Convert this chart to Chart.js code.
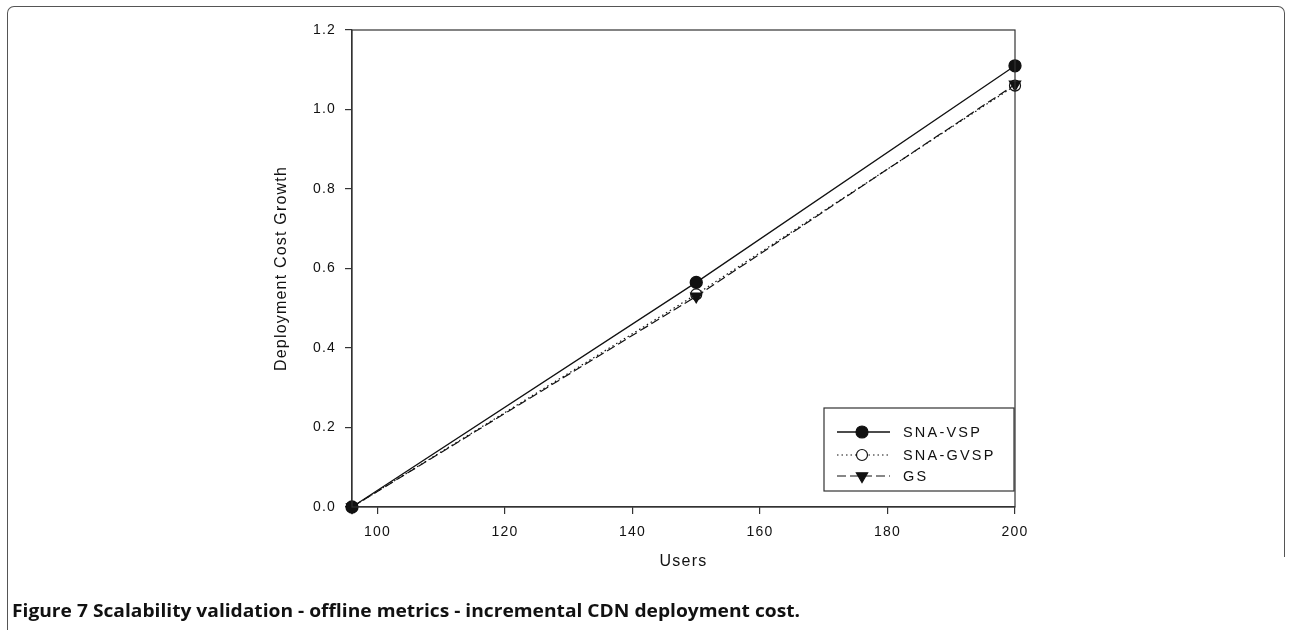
<!DOCTYPE html>
<html>
<head>
<meta charset="utf-8">
<script src="https://cdn.jsdelivr.net/npm/chart.js@4.4.1/dist/chart.umd.min.js"></script>
<style>
  html, body { margin: 0; padding: 0; background: #fff; }
  body { width: 1292px; height: 630px; position: relative; overflow: hidden; }
  #frame { position: absolute; left: 7px; top: 6px; width: 1276px; height: 550px;
           border: 1.5px solid #555; border-bottom: none; border-radius: 7px 7px 0 0; }
  #frameLeft { position: absolute; left: 7px; top: 550px; height: 90px; border-left: 1.5px solid #555; }
  #chart { position: absolute; left: 0; top: 0; }
  #caption { position: absolute; left: 12px; top: 598px; font: bold 18px "Open Sans", sans-serif;
             line-height: 24px; white-space: nowrap; transform-origin: 0 0; color: #111; }
</style>
</head>
<body>
<div id="frame"></div>
<div id="frameLeft"></div>
<canvas id="chart" width="1292" height="630"></canvas>
<div id="caption">Figure 7 Scalability validation - offline metrics - incremental CDN deployment cost.</div>
<script>
// values
const users = [96, 150, 200];
const snaVsp = [0, 0.565, 1.11];
const snaGvsp = [0, 0.535, 1.06];
const gs = [0, 0.53, 1.063];
const seriesNames = ['SNA-VSP', 'SNA-GVSP', 'GS'];
const xTicks = [100, 120, 140, 160, 180, 200];
const yTicks = [0, 0.2, 0.4, 0.6, 0.8, 1.0, 1.2];

const ink = '#111';
const axisColor = '#333';
const family = '"Liberation Sans", Arial, sans-serif';

function points(values) {
    return users.map((u, i) => ({ x: u, y: values[i] }));
}

// box round the plot area, letter spacing like the original
const framePlugin = {
    id: 'frame',
    beforeDraw(chart) {
        chart.ctx.letterSpacing = '1.2px';
    },
    afterDatasetsDraw(chart) {
        const ctx = chart.ctx;
        const a = chart.chartArea;
        ctx.save();
        ctx.strokeStyle = axisColor;
        ctx.lineWidth = 1.2;
        ctx.strokeRect(a.left, a.top, a.right - a.left, a.bottom - a.top);
        ctx.restore();
    }
};

// legend with line + marker samples, bottom right inside the plot
const legendPlugin = {
    id: 'boxLegend',
    afterDraw(chart) {
        const ctx = chart.ctx;
        const box = { left: 824, top: 408, right: 1014, bottom: 491 };
        const rows = [432, 455, 476];
        ctx.save();
        ctx.fillStyle = '#fff';
        ctx.fillRect(box.left, box.top, box.right - box.left, box.bottom - box.top);
        ctx.strokeStyle = axisColor;
        ctx.lineWidth = 1.2;
        ctx.strokeRect(box.left, box.top, box.right - box.left, box.bottom - box.top);

        chart.data.datasets.forEach((ds, i) => {
            const y = rows[i];
            ctx.strokeStyle = ink;
            ctx.lineWidth = ds.borderWidth;
            ctx.setLineDash(ds.borderDash || []);
            ctx.beginPath();
            ctx.moveTo(837, y);
            ctx.lineTo(890, y);
            ctx.stroke();
            ctx.setLineDash([]);
            drawMarker(ctx, ds, 862, y);

            ctx.fillStyle = '#111';
            ctx.font = '14.5px ' + family;
            ctx.letterSpacing = '2.2px';
            ctx.textBaseline = 'middle';
            ctx.textAlign = 'left';
            ctx.fillText(seriesNames[i], 903, y + 1);
        });
        ctx.restore();
    }
};

function drawMarker(ctx, ds, x, y) {
    const r = ds.pointRadius;
    ctx.beginPath();
    if (ds.pointStyle === 'triangle') {
        ctx.moveTo(x - r * 0.866, y - r * 0.5);
        ctx.lineTo(x + r * 0.866, y - r * 0.5);
        ctx.lineTo(x, y + r);
        ctx.closePath();
    } else {
        ctx.arc(x, y, r, 0, Math.PI * 2);
    }
    ctx.fillStyle = ds.pointBackgroundColor;
    ctx.fill();
    ctx.lineWidth = 1.2;
    ctx.strokeStyle = ink;
    ctx.stroke();
}

new Chart(document.getElementById('chart'), {
    type: 'line',
    data: {
        datasets: [
            {
                label: seriesNames[0],
                data: points(snaVsp),
                borderColor: ink,
                borderWidth: 1.3,
                pointStyle: 'circle',
                pointRadius: 6,
                pointBackgroundColor: ink,
                pointBorderColor: ink,
                clip: false,
                order: 0
            },
            {
                label: seriesNames[1],
                data: points(snaGvsp),
                borderColor: ink,
                borderWidth: 1.2,
                borderDash: [1.5, 3],
                pointStyle: 'circle',
                pointRadius: 5.5,
                pointBackgroundColor: '#fff',
                pointBorderColor: ink,
                pointBorderWidth: 1.2,
                clip: false,
                order: 2
            },
            {
                label: seriesNames[2],
                data: points(gs),
                borderColor: ink,
                borderWidth: 1.2,
                borderDash: [9, 4],
                pointStyle: 'triangle',
                pointRotation: 180,
                pointRadius: 6.5,
                pointBackgroundColor: ink,
                pointBorderColor: ink,
                clip: false,
                order: 1
            }
        ]
    },
    options: {
        responsive: false,
        animation: false,
        layout: {
            padding: { left: 268, top: 30, right: 277, bottom: 55 }
        },
        plugins: {
            legend: { display: false },
            tooltip: { enabled: false }
        },
        scales: {
            x: {
                type: 'linear',
                min: 96,
                max: 200,
                afterBuildTicks: s => { s.ticks = xTicks.map(v => ({ value: v })); },
                afterFit: s => { s.height = 68; },
                grid: { drawOnChartArea: false, drawTicks: true, tickLength: 7, color: axisColor, lineWidth: 1.2 },
                border: { color: axisColor, width: 1.2 },
                ticks: {
                    padding: 10,
                    maxRotation: 0,
                    color: '#111',
                    font: { family: family, size: 14 }
                },
                title: {
                    display: true,
                    text: 'Users',
                    color: '#111',
                    font: { family: family, size: 16 },
                    padding: { top: 4, bottom: 4 }
                }
            },
            y: {
                min: 0,
                max: 1.2,
                afterBuildTicks: s => { s.ticks = yTicks.map(v => ({ value: v })); },
                afterFit: s => { s.width = 84; },
                grid: { drawOnChartArea: false, drawTicks: true, tickLength: 7, color: axisColor, lineWidth: 1.2 },
                border: { color: axisColor, width: 1.2 },
                ticks: {
                    padding: 9,
                    color: '#111',
                    font: { family: family, size: 14 },
                    callback: v => v.toFixed(1)
                },
                title: {
                    display: true,
                    text: 'Deployment Cost Growth',
                    color: '#111',
                    font: { family: family, size: 16 },
                    padding: { top: 4, bottom: 4 }
                }
            }
        }
    },
    plugins: [framePlugin, legendPlugin]
});

// fit the caption to the width it has in the original
const cap = document.getElementById('caption');
const capWidth = cap.getBoundingClientRect().width;
cap.style.transform = 'scaleX(' + (788 / capWidth) + ')';
</script>
</body>
</html>
